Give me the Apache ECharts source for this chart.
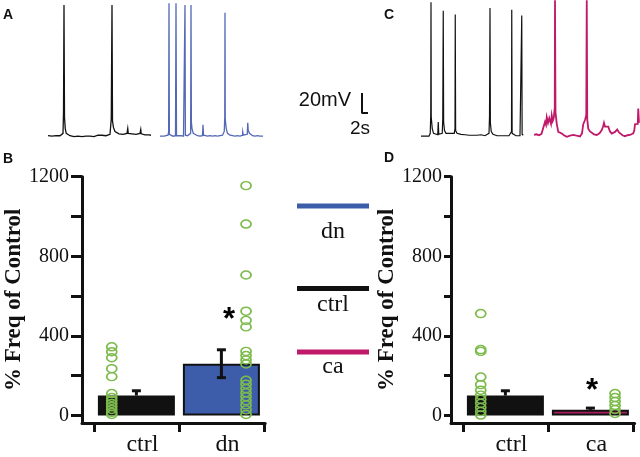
<!DOCTYPE html>
<html><head><meta charset="utf-8">
<script src="https://cdn.jsdelivr.net/npm/echarts@6/dist/echarts.min.js"></script>
<style>html,body{margin:0;padding:0;background:#fff}#c{width:640px;height:457px}</style>
</head><body><div id="c"></div><script>
// ---------------- DATA ----------------
// Voltage traces: [time (s), mV above resting baseline]
const traceA_ctrl = [[0,0.5],[0.8,1.5],[1.6,0],[2.4,1],[3.2,0.5],[4,1.5],[4.8,0.5],[5.6,1],[6.0,3],[6.2,25],[6.4,138],[6.6,20],[6.9,8],[7.3,3],[8,1.5],[8.8,0.5],[9.6,1],[10.4,-0.5],[11.2,0.5],[12,0],[12.8,1],[13.6,-0.5],[14.4,0.5],[15.2,0],[16,1],[16.8,0],[17.6,0.5],[18.4,-0.5],[19.2,0.5],[20,1],[20.8,2.5],[21.6,1],[22.4,1.5],[23.2,0.5],[24,1],[24.8,2],[25.3,18],[25.6,138],[25.8,16],[26.2,9],[26.8,5],[27.6,3],[28.4,2.5],[29.2,1.5],[30,2],[30.8,2.5],[31.6,3],[31.9,8],[32.1,3],[32.8,3.5],[33.6,2.5],[34.4,3],[35.2,2],[36,2.5],[36.8,3],[37.1,7],[37.3,2.5],[38,2],[38.8,1.5],[39.6,2],[40.4,1.5],[41.2,1]];
const traceA_dn = [[0,0],[0.8,0.5],[1.6,0],[2.4,0.5],[3.2,1],[3.45,4.5],[3.6,140],[3.75,2],[4.4,0.5],[5.2,0],[6.2,0.5],[6.4,140],[6.6,0.5],[7.4,0],[8.4,0.5],[9.4,0],[9.85,0.5],[10,138],[10.15,1],[11,0.5],[11.8,1],[12.25,3],[12.4,138],[12.55,15],[12.8,8],[13.3,3],[14,1],[15,0.5],[16,0],[17,0.5],[17.2,12],[17.4,1],[18,0.5],[19,0],[20,0.5],[21,0],[22,0.5],[23,0],[24,0.5],[25,1],[25.7,5],[25.9,20],[26,130],[26.1,18],[26.5,8],[27,3],[28,1],[29,0.5],[30,0],[31,0.5],[32,0],[33,1],[33.1,4.5],[33.3,1],[34,0.5],[34.9,2],[35.1,14],[35.3,6],[35.8,3],[36.4,1.5],[37,0.5],[38,0],[39,0.5],[40,0],[41.2,0]];
const traceC_ctrl = [[0,0],[0.8,0.5],[1.6,0],[2.4,0.5],[3.2,0],[3.7,3],[3.9,24],[4.0,141],[4.1,20],[4.5,8],[5,3],[5.8,1],[6.7,1.5],[6.9,15],[7.1,2],[7.8,1],[8.5,3],[8.7,18],[8.9,132],[9.05,15],[9.4,6],[10,3],[10.8,2],[11.6,3],[12.4,2],[13.3,3],[13.6,8],[13.7,128],[13.85,6],[14.4,3],[15.2,1.5],[16,2],[16.8,1],[17.6,1.5],[18.4,0.5],[19.2,1],[20,0.5],[20.8,1],[21.6,0.5],[22.4,1],[23.2,2.5],[24,1.5],[24.8,1],[25.6,0.5],[26.4,1],[27.2,3],[27.4,20],[27.6,135],[27.75,14],[28.1,5],[28.8,2],[29.6,1],[30.4,0.5],[31.2,1],[32,0.5],[32.8,1],[33.6,0.5],[34.4,1],[35.2,0.5],[36,1],[36.2,5],[36.3,133],[36.45,3],[37.2,1],[38,0.5],[38.8,1],[39.6,0.5],[40.1,2],[40.3,127],[40.45,2],[40.9,1]];
const traceC_ca = [[0,1.3],[1,2],[2,1],[3,2.5],[3.8,2],[4.4,15],[4.8,12],[5.1,20],[5.6,14],[6.1,19],[6.4,17],[6.8,13],[7.1,22],[7.5,16],[7.9,19],[8.3,30],[8.4,143],[8.6,25],[9.1,13],[9.7,4.5],[10.4,3.5],[11.1,2.8],[12,1],[13.1,-0.7],[14.4,0.5],[15.7,1.3],[17,0.5],[18.4,-0.2],[19.2,3],[19.7,12.6],[20.4,17],[20.9,22],[21.1,143],[21.3,18],[21.7,8],[22.4,5],[23.1,3.5],[24,2],[25.1,1.3],[26.2,3],[27.1,6.5],[27.6,10],[28,14],[28.4,10],[28.8,12],[29.2,9],[29.7,10],[30.4,5],[31.1,2.8],[31.8,3.5],[32.4,4.5],[33.3,7],[34,4],[34.4,2.8],[35.4,1],[36.4,0],[37.4,1],[38.4,1.3],[39.1,2],[39.7,3],[40.1,6],[40.4,12.6],[41.1,11.6],[41.5,13],[41.7,29],[42,14]];
const scaleBar = [[0,20],[0,0],[2,0]]; // 20 mV, 2 s

// Bar panels (% frequency of control)
const groupsB = ['ctrl','dn'];
const meansB = [100, 260];
const semB = [24, 70];
const twoSidedB = [0, 1];
const pointsB_ctrl = [345, 320, 290, 235, 195, 110, 90, 75, 60, 45, 30, 15, 5];
const pointsB_dn = [1155, 962, 706, 524, 478, 445, 322, 301, 279, 259, 177, 157, 135, 114, 94, 74, 53, 28, 5];
const starB = {group: 1, value: 525};

const groupsD = ['ctrl','ca'];
const meansD = [100, 28];
const semD = [24, 9];
const twoSidedD = [0, 0];
const pointsD_ctrl = [512, 331, 322, 193, 155, 127, 102, 81, 61, 40, 20, 2];
const pointsD_ca = [110, 90, 70, 50, 30, 10];
const starD = {group: 1, value: 165};

const yTickValues = [0, 200, 400, 600, 800, 1000, 1200];
const yLabelValues = [0, 400, 800, 1200];
const legendNames = ['dn', 'ctrl', 'ca'];

// ---------------- STYLE / LAYOUT ----------------
const BLACK = '#111';
const BLUE = '#3d5caa', BLUE_TRACE = '#5468b8';
const MAG = '#c0196a', MAG_BAR = '#a81e60';
const GREEN = '#7dbb4c';
const SERIF = '"Liberation Serif", "Times New Roman", serif';
const SANS = '"Liberation Sans", Arial, sans-serif';
const PX_PER_S = 2.5, PX_PER_MV = 0.95;
const barColorsB = [BLACK, BLUE], barColorsD = [BLACK, MAG_BAR];
const dotDx = [-0.29, 0.29];

const traceGrids = [
  {left: 48, data: traceA_ctrl, color: BLACK, w: 1.3},
  {left: 160, data: traceA_dn, color: BLUE_TRACE, w: 1.3},
  {left: 421, data: traceC_ctrl, color: BLACK, w: 1.2},
  {left: 534, data: traceC_ca, color: MAG, w: 1.8}
];
const Y_MIN = -4;

const grids = [], xAxes = [], yAxes = [], series = [];
traceGrids.forEach((g, i) => {
  const tMax = g.data[g.data.length - 1][0];
  grids.push({left: g.left, top: 0, width: tMax * PX_PER_S, height: 140});
  xAxes.push({gridIndex: i, type: 'value', min: 0, max: tMax, show: false});
  yAxes.push({gridIndex: i, type: 'value', min: Y_MIN, max: Y_MIN + 140 / PX_PER_MV, show: false});
  series.push({type: 'line', xAxisIndex: i, yAxisIndex: i, data: g.data, symbol: 'none',
    lineStyle: {color: g.color, width: g.w, join: 'miter'}, silent: true});
});
// scale bar grid (index 4)
grids.push({left: 362, top: 94, width: 2 * PX_PER_S, height: 20 * PX_PER_MV});
xAxes.push({gridIndex: 4, type: 'value', min: 0, max: 2, show: false});
yAxes.push({gridIndex: 4, type: 'value', min: 0, max: 20, show: false});
series.push({type: 'line', xAxisIndex: 4, yAxisIndex: 4, data: scaleBar, symbol: 'none',
  lineStyle: {color: BLACK, width: 2, cap: 'square'}, silent: true});

function barPanel(idx, left, xmax, tickLen, nameGap, groups, means, sems, twoSided, ptsA, ptsB, colors, star, starDx) {
  grids.push({left: left, top: 176.7, width: (xmax - 0.36) * 85, height: 250.3});
  xAxes.push({gridIndex: idx, type: 'value', min: 0.36, max: xmax,
    axisLine: {show: true, onZero: false, lineStyle: {color: BLACK, width: 3}},
    axisTick: {show: true, customValues: [0.5, 1.5, 2.5], length: 9, lineStyle: {color: BLACK, width: 3}},
    axisLabel: {show: true, customValues: [1, 2], formatter: v => groups[Math.round(v) - 1],
      fontFamily: SERIF, fontSize: 24, color: BLACK, margin: 10, padding: [0, 0, 0, 12]},
    splitLine: {show: false}});
  yAxes.push({gridIndex: idx, type: 'value', min: -38, max: 1200,
    axisLine: {show: true, onZero: false, lineStyle: {color: BLACK, width: 3}},
    axisTick: {show: true, customValues: yTickValues, length: tickLen, lineStyle: {color: BLACK, width: 3}},
    axisLabel: {show: true, customValues: yLabelValues, formatter: v => String(v),
      fontFamily: SERIF, fontSize: 20, color: BLACK, margin: tickLen + 2},
    splitLine: {show: false},
    name: '% Freq of Control', nameLocation: 'middle', nameGap: nameGap,
    nameTextStyle: {fontFamily: SERIF, fontWeight: 'bold', fontSize: 23, color: BLACK}});
  series.push({type: 'bar', xAxisIndex: idx, yAxisIndex: idx, barWidth: 77,
    data: means.map((m, i) => ({value: [i + 1, m], itemStyle: {color: colors[i],
      borderColor: BLACK, borderWidth: i === 0 ? 0 : 2}})), z: 2, silent: true});
  series.push({type: 'custom', xAxisIndex: idx, yAxisIndex: idx, z: 3, silent: true,
    data: means.map((m, i) => [i + 1, m, sems[i], twoSided[i]]),
    encode: {x: 0, y: 1},
    renderItem: (params, api) => {
      const x = api.value(0), m = api.value(1), e = api.value(2), both = api.value(3);
      const top = api.coord([x, m + e]);
      const low = both ? api.coord([x, m - e]) : api.coord([x, m]);
      const st = {stroke: BLACK, lineWidth: 3};
      const ch = [
        {type: 'line', shape: {x1: top[0], y1: top[1], x2: low[0], y2: low[1]}, style: st},
        {type: 'line', shape: {x1: top[0] - 4.5, y1: top[1], x2: top[0] + 4.5, y2: top[1]}, style: st}];
      if (both) ch.push({type: 'line', shape: {x1: low[0] - 4.5, y1: low[1], x2: low[0] + 4.5, y2: low[1]}, style: st});
      return {type: 'group', children: ch};
    }});
  [ptsA, ptsB].forEach((pts, gi) => {
    series.push({type: 'scatter', xAxisIndex: idx, yAxisIndex: idx, z: 4, silent: true,
      symbol: 'circle', symbolSize: [10, 8],
      itemStyle: {color: 'rgba(0,0,0,0)', borderColor: GREEN, borderWidth: 1.6, opacity: 1},
      data: pts.map(v => [gi + 1 + dotDx[gi], v])});
  });
  series.push({type: 'scatter', xAxisIndex: idx, yAxisIndex: idx, z: 5, silent: true,
    symbolSize: 2, itemStyle: {color: 'rgba(0,0,0,0)', opacity: 1},
    label: {show: true, position: 'inside', formatter: '*', fontFamily: SANS, fontWeight: 'bold',
      fontSize: 31, color: '#000', opacity: 1, offset: [0, 9]},
    data: [[star.group + 1 + starDx, star.value]]});
}
barPanel(5, 82, 2.515, 11, 56, groupsB, meansB, semB, twoSidedB, pointsB_ctrl, pointsB_dn, barColorsB, starB, 0.09);
barPanel(6, 451, 2.52, 7, 40, groupsD, meansD, semD, twoSidedD, pointsD_ctrl, pointsD_ca, barColorsD, starD, 0.02);

// ---------------- GRAPHIC (labels, legend) ----------------
const txt = (text, x, y, font, align, va) => ({type: 'text', x: x, y: y, silent: true,
  style: {text: text, font: font, fill: BLACK, align: align || 'left', verticalAlign: va || 'middle'}});
const legendColors = [BLUE, BLACK, MAG];
const legendY = [206, 288.5, 352];
const legendTextY = [232, 305, 367];
const graphic = [
  txt('A', 3, 15, 'bold 14px ' + SANS),
  txt('B', 3, 159, 'bold 14px ' + SANS),
  txt('C', 384, 15, 'bold 14px ' + SANS),
  txt('D', 384, 158, 'bold 14px ' + SANS),
  txt('20mV', 351, 100, '20px ' + SANS, 'right'),
  txt('2s', 350, 129, '19px ' + SANS, 'left')
];
legendNames.forEach((n, i) => {
  graphic.push({type: 'rect', silent: true, shape: {x: 297, y: legendY[i] - 2.5, width: 72, height: 5},
    style: {fill: legendColors[i]}});
  graphic.push(txt(n, 333, legendTextY[i], '24px ' + SERIF, 'center'));
});

const chart = echarts.init(document.getElementById('c'), null, {renderer: 'canvas'});
chart.setOption({animation: false, backgroundColor: '#fff', grid: grids, xAxis: xAxes, yAxis: yAxes,
  series: series, graphic: graphic});
</script></body></html>
